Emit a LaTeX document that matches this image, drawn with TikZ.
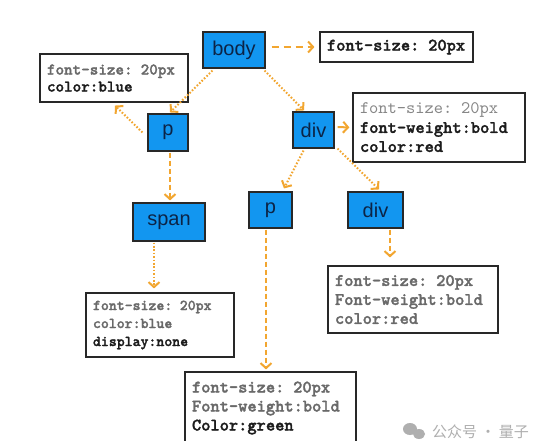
\documentclass[tikz,border=0pt]{standalone}
\usepackage{fontspec}
\setmainfont{Liberation Sans}
\newfontfamily\cjkfont{Noto Sans CJK SC}
\newfontfamily\codefont{lmmonolt10-bold.otf}[FakeBold=1.6]
\newfontfamily\codelight{lmmono10-regular.otf}
\usetikzlibrary{arrows.meta,calc}
\definecolor{nodeblue}{RGB}{18,150,240}
\definecolor{navytext}{RGB}{12,36,70}
\definecolor{arrorange}{RGB}{242,166,48}
\definecolor{greytext}{RGB}{105,105,105}
\definecolor{lightgreytext}{RGB}{135,135,135}
\definecolor{darktext}{RGB}{28,28,28}
\definecolor{boxline}{RGB}{40,40,40}
\definecolor{wmgrey}{RGB}{175,175,175}
\begin{document}
\begin{tikzpicture}[x=1pt,y=-1pt,
  elem/.style={draw=boxline, line width=1.1pt, fill=nodeblue, text=navytext,
    font=\fontsize{20}{22}\selectfont, inner sep=0pt},
  info/.style={draw=boxline, line width=1.1pt, fill=white, align=left,
    inner xsep=7pt, inner ysep=0pt, text=darktext,
    font=\fontsize{17.6}{19}\selectfont\codefont},
  flow/.style={draw=arrorange, line width=2pt,
    -{Straight Barb[length=5pt,width=11pt]}},
  dotflow/.style={flow, dash pattern=on 1.6pt off 1.8pt},
  dashflow/.style={flow, dash pattern=on 5pt off 3pt},
  longdash/.style={flow, dash pattern=on 7pt off 5pt},
]
\clip (0,0) rectangle (536,441);
\fill[white] (0,0) rectangle (536,441);

% element boxes
\node[elem, minimum width=62pt, minimum height=36pt] (body) at (234,50) {body};
\node[elem, minimum width=40pt, minimum height=37pt] (p1) at (168,132.5) {p};
\node[elem, minimum width=41pt, minimum height=36pt] (div1) at (313.5,130) {div};
\node[elem, minimum width=72pt, minimum height=38pt] (span) at (169,222) {span};
\node[elem, minimum width=43pt, minimum height=36pt] (p2) at (270.5,210) {p};
\node[elem, minimum width=55pt, minimum height=36pt] (div2) at (375.5,210) {div};

% style boxes
\node[info, text width=139pt, minimum height=30pt] (topbox) at (396.5,47) {font-size: 20px};
\node[info, text width=134pt, minimum height=48pt,
  font=\fontsize{16.3}{17}\selectfont\codefont] (leftbox) at (114,78)
  {{\color{greytext}font-size: 20px}\\color:blue};
\node[info, text width=158pt, minimum height=69pt] (rbox) at (439,127.5)
  {{\codelight\color{lightgreytext}font-size: 20px}\\font-weight:bold\\color:red};
\node[info, text width=134pt, minimum height=64pt,
  font=\fontsize{15.1}{18}\selectfont\codefont] (sbox) at (160,325)
  {{\color{greytext}font-size: 20px}\\{\color{greytext}color:blue}\\display:none};
\node[info, text width=156pt, minimum height=67pt, text=greytext] (dbox) at (413,299.5)
  {font-size: 20px\\Font-weight:bold\\color:red};
\node[info, text width=157pt, minimum height=72pt] (pbox) at (270.5,408)
  {{\color{greytext}font-size: 20px}\\{\color{greytext}Font-weight:bold}\\Color:green};

% connector anchor points
\coordinate (sa) at ($(span.south)+(-15,1)$);
\coordinate (pa) at ($(p2.south)+(-4.5,1)$);
\coordinate (da) at ($(div2.south)+(14.5,1)$);
\coordinate (pa1) at ($(p1.south)+(2,1)$);

% connectors
\draw[longdash] ($(body.east |- topbox.west)+(6,0)$) -- ($(topbox.west)+(-5,0)$);
\draw[dotflow] ($(body.south west)+(10,2)$) -- ($(p1.north)+(2,-1)$);
\draw[dotflow] ($(body.south east)+(-1,2)$) -- ($(div1.north)+(-9.5,-1)$);
\draw[dotflow] ($(p1.west)+(-5,0)$) -- ($(leftbox.south)+(1,3)$);
\draw[flow] ($(div1.east)+(3,-3)$) -- ($(rbox.west)+(-3,0)$);
\draw[dashflow] (pa1) -- ($(pa1 |- span.north)+(0,-2)$);
\draw[dotflow] (sa) -- ($(sa |- sbox.north)+(0,-4)$);
\draw[dashflow] (pa) -- ($(pa |- pbox.north)+(0,-2)$);
\draw[dashflow] (da) -- ($(da |- dbox.north)+(0,-8)$);
\draw[dotflow] ($(div1.south)+(-10,2)$) -- ($(p2.north)+(13.5,-3)$);
\draw[dotflow] ($(div1.south east)+(3,0)$) -- ($(div2.north)+(3.5,-2)$);

% watermark
\fill[wmgrey] (410,429) ellipse (7pt and 6pt);
\fill[wmgrey] (419,434) ellipse (6pt and 5pt);
\node[anchor=west, inner sep=0pt, text=wmgrey,
  font=\cjkfont\fontsize{15}{15}\selectfont] (wm) at (432,432) {公众号 · 量子};
\end{tikzpicture}
\end{document}
